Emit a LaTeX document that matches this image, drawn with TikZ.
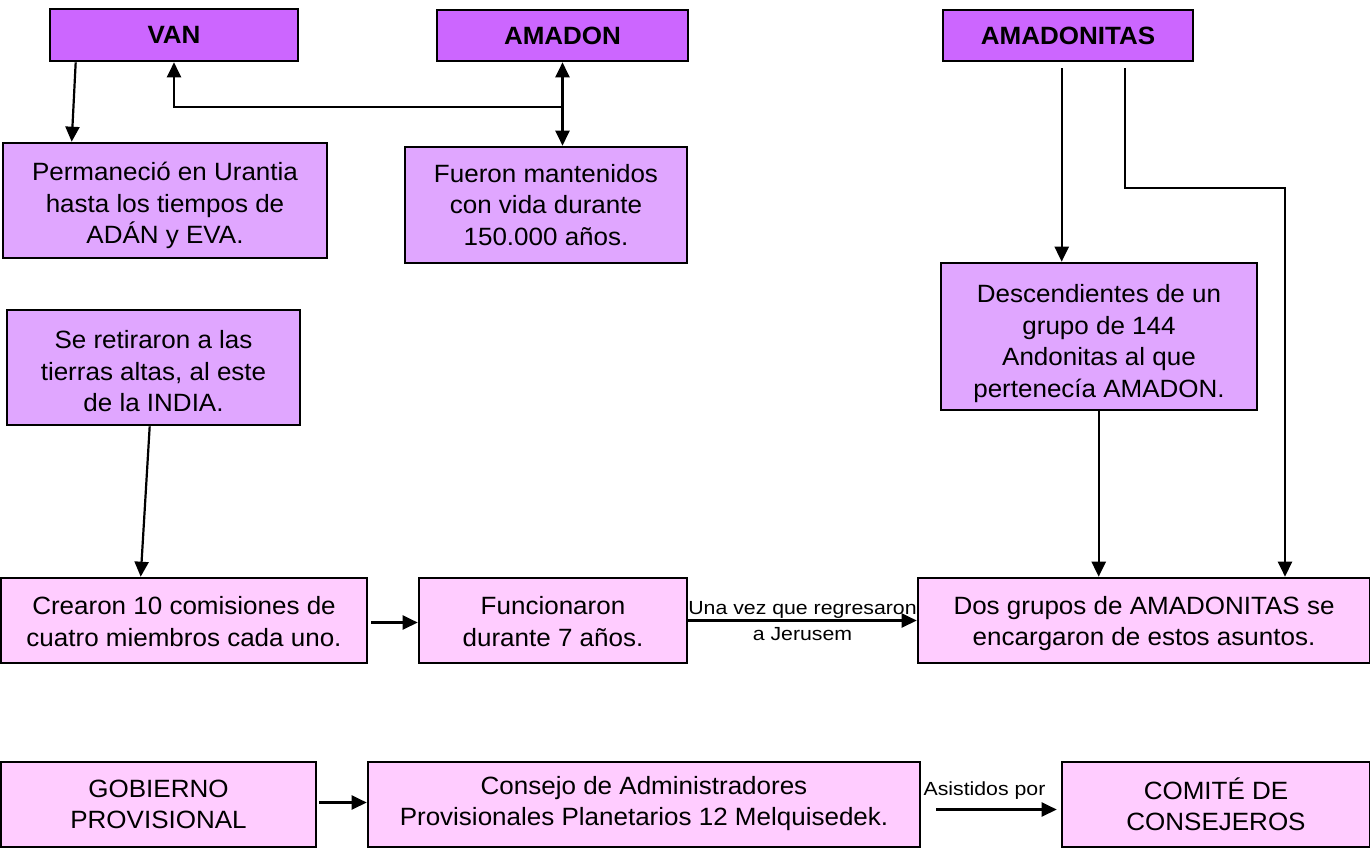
\documentclass[tikz,border=0pt]{standalone}
\usepackage{fontspec}
\setmainfont{Liberation Sans}[FakeStretch=1.04]
\newfontfamily\lblfont{Liberation Sans}[FakeStretch=1.12]
\usetikzlibrary{arrows.meta}
\definecolor{headc}{HTML}{CC66FF}
\definecolor{midc}{HTML}{E0A6FF}
\definecolor{lowc}{HTML}{FFCCFF}
\tikzset{
  box/.style={draw=black, line width=2.6pt, inner sep=0pt},
  head/.style={box, fill=headc},
  mid/.style={box, fill=midc},
  low/.style={box, fill=lowc},
  txt/.style={align=center, inner sep=0pt, font=\fontsize{25}{31.5}\selectfont},
  htxt/.style={txt, font=\fontsize{25}{31.5}\selectfont\bfseries},
  arr/.style={line width=2.2pt, -{Triangle[length=15pt,width=14pt]}},
  lbl/.style={font=\lblfont\fontsize{19}{24}\selectfont, inner sep=0pt}
}
% #1 style, #2 width, #3 height, #4 name, #5 centre, #6 text shift, #7 text style, #8 text
\newcommand\mybox[8]{%
  \node[#1, minimum width=#2, minimum height=#3] (#4) at #5 {};
  \node[#7, yshift=#6] (#4-t) at (#4.center) {#8};}
\begin{document}
\begin{tikzpicture}[x=1pt,y=-1pt]
\useasboundingbox (0,0) rectangle (1370,847);
% top headers
\mybox{head}{248}{52}{VAN}{(174,35)}{0pt}{htxt}{VAN}
\mybox{head}{251}{51}{AMADON}{(562.5,35.5)}{0pt}{htxt}{AMADON}
\mybox{head}{250}{51}{AMADONITAS}{(1068,35.5)}{0pt}{htxt}{AMADONITAS}
% mid boxes
\mybox{mid}{324}{115}{Perm}{(165,200.5)}{-5pt}{txt}{Permaneció en Urantia\\hasta los tiempos de\\ADÁN y EVA.}
\mybox{mid}{282}{116}{Fueron}{(546,205)}{0pt}{txt}{Fueron mantenidos\\con vida durante\\150.000 años.}
\mybox{mid}{293}{115}{Se}{(153.5,367.5)}{-4pt}{txt}{Se retiraron a las\\tierras altas, al este\\de la INDIA.}
\mybox{mid}{316}{147}{Desc}{(1099,336.5)}{-7pt}{txt}{Descendientes de un\\grupo de 144\\Andonitas al que\\pertenecía AMADON.}
% lower row
\mybox{low}{366}{85}{Crearon}{(184,620.5)}{-1pt}{txt}{Crearon 10 comisiones de\\cuatro miembros cada uno.}
\mybox{low}{268}{85}{Func}{(553,620.5)}{-1pt}{txt}{Funcionaron\\durante 7 años.}
\mybox{low}{452}{85}{Dos}{(1144,620.5)}{-3pt}{txt}{Dos grupos de AMADONITAS se\\encargaron de estos asuntos.}
% bottom row
\mybox{low}{315}{85}{Gob}{(158.5,804.5)}{0pt}{txt}{GOBIERNO\\PROVISIONAL}
\mybox{low}{552}{85}{Consejo}{(644,804.5)}{1pt}{txt}{Consejo de Administradores\\Provisionales Planetarios 12 Melquisedek.}
\mybox{low}{308}{85}{Comite}{(1216,804.5)}{0pt}{txt}{COMITÉ DE\\CONSEJEROS}
% connectors
\coordinate (J) at (562.5,107);
\coordinate (K) at (1285,188);
\draw[arr] ([xshift=27pt]VAN.south west) -- ([xshift=70pt]Perm.north west);
\draw[arr] (J) -- (J |- AMADON.south);
\draw[arr] (J) -| (VAN.south);
\draw[arr] (J) -- (J |- Fueron.north);
\draw[arr] ([xshift=120pt,yshift=-6pt]AMADONITAS.south west) -- ([xshift=122pt]Desc.north west);
\draw[arr] ([xshift=183pt,yshift=-6pt]AMADONITAS.south west) |- (K) -- (K |- Dos.north);
\draw[arr] ([xshift=159pt]Desc.south west) -- ([xshift=182pt]Dos.north west);
\draw[arr] ([xshift=144pt]Se.south west) -- ([xshift=141pt]Crearon.north west);
\draw[arr] ([xshift=3pt,yshift=-2pt]Crearon.east) -- ([yshift=-2pt]Func.west);
\draw[arr] (Func.east) -- (Dos.west)
  node[lbl, midway, above=1pt] {Una vez que regresaron}
  node[lbl, midway, below=6pt] {a Jerusem};
\draw[arr] ([xshift=2pt,yshift=2pt]Gob.east) -- ([yshift=2pt]Consejo.west);
\draw[arr] ([xshift=15pt,yshift=-5pt]Consejo.east) -- ([xshift=-4pt,yshift=-5pt]Comite.west)
  node[lbl, pos=0.4, above=9pt] {Asistidos por};
\end{tikzpicture}
\end{document}
